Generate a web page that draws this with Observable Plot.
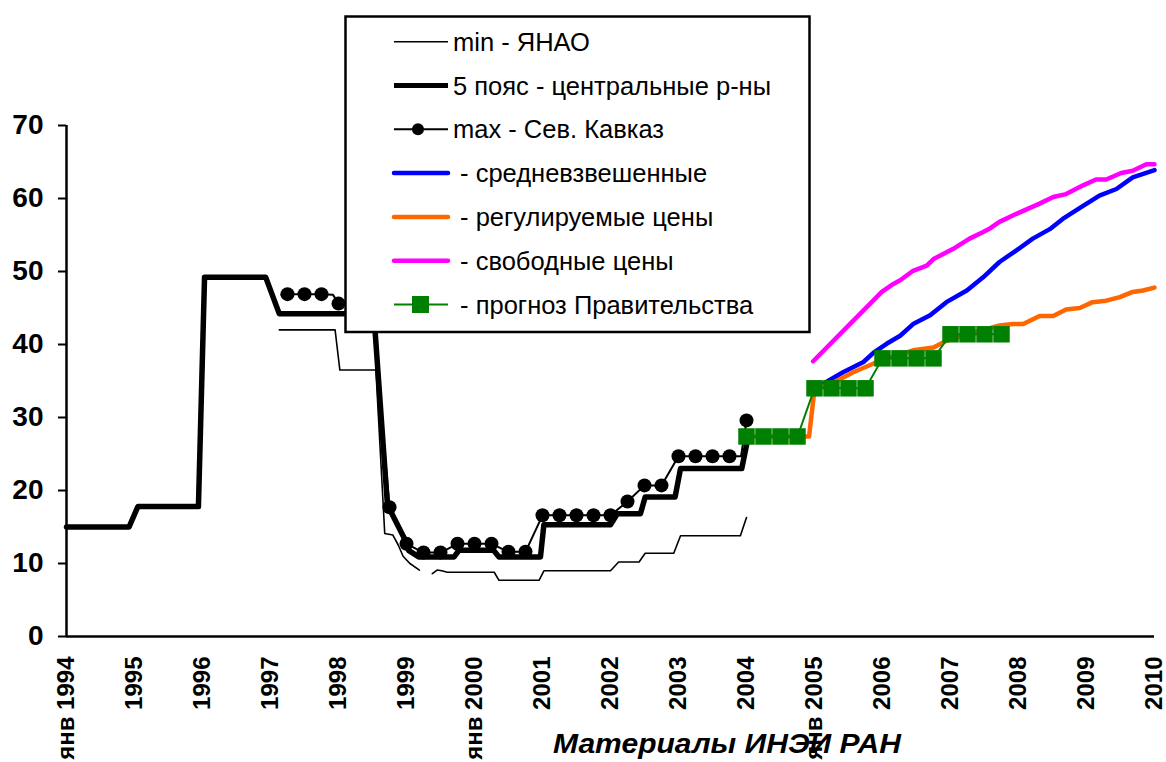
<!DOCTYPE html>
<html><head><meta charset="utf-8">
<script src="https://cdn.jsdelivr.net/npm/d3@7"></script>
<script src="https://cdn.jsdelivr.net/npm/@observablehq/plot@0.6"></script>
<style>
body{margin:0;background:#fff;}
#wrap{position:relative;width:1166px;height:762px;overflow:hidden;font-family:"Liberation Sans",Arial,sans-serif;}
#wrap svg.overlay{position:absolute;left:0;top:0;pointer-events:none;}
</style></head><body><div id="wrap"></div>
<script>
// ---- tick labels ----
const xTickYears = [1994,1995,1996,1997,1998,1999,2000,2001,2002,2003,2004,2005,2006,2007,2008,2009,2010];
const xTickLabels = ["янв 1994","1995","1996","1997","1998","1999","янв 2000","2001","2002","2003","2004","янв 2005","2006","2007","2008","2009","2010"];
const yTicks = [0,10,20,30,40,50,60,70];

// ---- series: min - ЯНАО ----
const minYears  = [1997.13,1997.95,1998.02,1998.55,1998.68,1998.80,1998.88,1998.95,1999.05,1999.19,1999.28,1999.38,1999.45,1999.52,1999.60,2000.29,2000.36,2000.95,2001.02,2002.00,2002.12,2002.42,2002.51,2002.93,2003.03,2003.91,2004.00];
const minValues = [42.0,42.0,36.5,36.5,14.1,13.9,12.5,11.0,10.0,9.1,null,8.6,9.1,9.0,8.8,8.8,7.7,7.7,9.0,9.0,10.2,10.2,11.4,11.4,13.8,13.8,16.3];

// ---- series: 5 пояс - центральные р-ны ----
const beltYears  = [1994.00,1994.92,1995.05,1995.94,1996.03,1996.93,1997.13,1998.52,1998.72,1998.76,1998.96,1999.03,1999.18,1999.70,1999.77,2000.28,2000.36,2000.97,2001.02,2002.00,2002.10,2002.44,2002.51,2002.95,2003.03,2003.93,2004.00,2004.03];
const beltValues = [15.0,15.0,17.8,17.8,49.2,49.2,44.2,44.2,18.0,17.3,13.6,11.8,10.9,10.9,11.8,11.8,10.9,10.9,15.3,15.3,16.8,16.8,19.1,19.1,23.0,23.0,26.2,27.4];

// ---- series: max - Сев. Кавказ ----
const maxYears  = [1997.16,1997.25,1997.50,1997.75,1997.92,1998.00,1998.25,1998.50,1998.75,1999.00,1999.25,1999.50,1999.75,2000.00,2000.25,2000.50,2000.75,2001.00,2001.25,2001.50,2001.75,2002.00,2002.25,2002.50,2002.75,2003.00,2003.25,2003.50,2003.75,2003.92,2004.00];
const maxValues = [46.8,46.9,46.9,46.9,46.8,45.6,45.0,44.5,17.7,12.7,11.5,11.5,12.7,12.7,12.7,11.6,11.6,16.6,16.6,16.6,16.6,16.6,18.5,20.7,20.7,24.7,24.7,24.7,24.7,24.7,29.6];

// ---- series: средневзвешенные ----
const avgYears  = [2005.00,2005.18,2005.42,2005.72,2005.87,2006.06,2006.26,2006.45,2006.70,2006.94,2007.24,2007.48,2007.72,2007.97,2008.21,2008.46,2008.65,2008.95,2009.19,2009.44,2009.68,2010.00];
const avgValues = [33.9,34.9,36.2,37.6,38.9,40.1,41.2,42.8,44.0,45.8,47.4,49.2,51.3,52.9,54.5,55.8,57.2,59.0,60.4,61.3,62.9,63.9];

// ---- series: регулируемые цены ----
const regYears  = [2004.00,2004.92,2005.00,2005.28,2005.57,2005.87,2006.10,2006.25,2006.45,2006.75,2006.94,2007.20,2007.45,2007.72,2007.92,2008.07,2008.31,2008.51,2008.70,2008.90,2009.09,2009.29,2009.49,2009.68,2009.83,2010.00];
const regValues = [27.4,27.4,33.9,34.8,36.2,37.4,38.2,38.6,39.2,39.6,40.5,41.3,41.9,42.6,42.8,42.8,43.9,43.9,44.8,45.0,45.8,46.0,46.5,47.2,47.4,47.8];

// ---- series: свободные цены ----
const freeYears  = [2004.98,2005.99,2006.16,2006.26,2006.45,2006.65,2006.75,2007.04,2007.28,2007.48,2007.58,2007.72,2007.97,2008.31,2008.51,2008.70,2008.95,2009.14,2009.29,2009.51,2009.68,2009.88,2010.00];
const freeValues = [37.7,47.2,48.3,48.8,50.1,50.8,51.7,53.1,54.5,55.4,55.9,56.8,57.9,59.3,60.2,60.6,61.8,62.6,62.6,63.5,63.8,64.7,64.7];

// ---- series: прогноз Правительства ----
const govYears  = [2004.00,2004.25,2004.50,2004.75,2005.00,2005.25,2005.50,2005.75,2006.00,2006.25,2006.50,2006.75,2007.00,2007.25,2007.50,2007.75];
const govValues = [27.4,27.4,27.4,27.4,34.0,34.0,34.0,34.0,38.1,38.1,38.1,38.1,41.4,41.4,41.4,41.4];

// ---- legend & caption text ----
const legendLabels = ["min - ЯНАО","5 пояс - центральные р-ны","max - Сев. Кавказ"," - средневзвешенные"," - регулируемые цены"," - свободные цены"," - прогноз Правительства"];
const captionText = "Материалы ИНЭИ РАН";

const toRows = (xs, vs) => xs.map((year, i) => ({year, value: vs[i]}));
const minData = toRows(minYears, minValues);
const beltData = toRows(beltYears, beltValues);
const maxData = toRows(maxYears, maxValues);
const maxDots = maxData.filter(d => Math.abs(d.year * 4 - Math.round(d.year * 4)) < 1e-6);
const avgData = toRows(avgYears, avgValues);
const regData = toRows(regYears, regValues);
const freeData = toRows(freeYears, freeValues);
const govData = toRows(govYears, govValues);

const COL = {avg:"#0000ff", reg:"#ff6600", free:"#ff00ff", gov:"#008000"};

const chart = Plot.plot({
  width: 1166, height: 762,
  marginLeft: 66, marginRight: 12, marginTop: 125, marginBottom: 126,
  x: {domain: [1994, 2010]},
  y: {domain: [0, 70]},
  style: {fontFamily: "'Liberation Sans', Arial, sans-serif", color: "#000", background: "#fff"},
  marks: [
    Plot.axisY({ticks: yTicks, tickSize: 8, tickPadding: 15, fontSize: 28, fontWeight: "bold", strokeWidth: 2, label: null, tickFormat: d => String(d)}),
    Plot.axisX({ticks: xTickYears, tickFormat: d => xTickLabels[xTickYears.indexOf(d)], tickRotate: -90, tickSize: 0, tickPadding: 20, fontSize: 24, fontWeight: "bold", label: null}),
    Plot.line(minData, {x: "year", y: "value", stroke: "#000", strokeWidth: 1.6}),
    Plot.line(beltData, {x: "year", y: "value", stroke: "#000", strokeWidth: 5.5}),
    Plot.line(maxData, {x: "year", y: "value", stroke: "#000", strokeWidth: 2}),
    Plot.dot(maxDots, {x: "year", y: "value", r: 7, fill: "#000"}),
    Plot.line(freeData, {x: "year", y: "value", stroke: COL.free, strokeWidth: 4.5, strokeLinecap: "round"}),
    Plot.line(avgData, {x: "year", y: "value", stroke: COL.avg, strokeWidth: 4.5, strokeLinecap: "round"}),
    Plot.line(regData, {x: "year", y: "value", stroke: COL.reg, strokeWidth: 4.5, strokeLinecap: "round"}),
    Plot.line(govData, {x: "year", y: "value", stroke: COL.gov, strokeWidth: 2}),
    Plot.dot(govData, {x: "year", y: "value", symbol: "square", r: 9.3, fill: COL.gov}),
    Plot.ruleX([1994], {strokeWidth: 2.5}),
    Plot.ruleY([0], {strokeWidth: 2.5})
  ]
});
const wrap = document.getElementById("wrap");
wrap.appendChild(chart);

// ---- overlay: legend box and caption ----
const ov = d3.select(wrap).append("svg").attr("class", "overlay").attr("width", 1166).attr("height", 762)
  .style("font-family", "'Liberation Sans', Arial, sans-serif");

ov.append("text").attr("x", 553).attr("y", 753)
  .attr("font-size", 27).attr("font-weight", "bold").attr("font-style", "italic")
  .attr("textLength", 348).attr("lengthAdjust", "spacingAndGlyphs").text(captionText);

const lg = ov.append("g");
lg.append("rect").attr("x", 345.5).attr("y", 16.5).attr("width", 464).attr("height", 315.5)
  .attr("fill", "#fff").attr("stroke", "#000").attr("stroke-width", 2.5);
const swatches = [
  {stroke: "#000", w: 1.6},
  {stroke: "#000", w: 5},
  {stroke: "#000", w: 2, dot: true},
  {stroke: COL.avg, w: 4.5, cap: "round"},
  {stroke: COL.reg, w: 4.5, cap: "round"},
  {stroke: COL.free, w: 4.5, cap: "round"},
  {stroke: COL.gov, w: 2, square: true}
];
legendLabels.forEach((lab, i) => {
  const cy = 41.7 + i * 43.8;
  const s = swatches[i];
  lg.append("line").attr("x1", 394).attr("x2", 448).attr("y1", cy).attr("y2", cy)
    .attr("stroke", s.stroke).attr("stroke-width", s.w).attr("stroke-linecap", s.cap || "butt");
  if (s.dot) lg.append("circle").attr("cx", 418).attr("cy", cy).attr("r", 6).attr("fill", "#000");
  if (s.square) lg.append("rect").attr("x", 412).attr("y", cy - 8.5).attr("width", 17).attr("height", 17).attr("fill", COL.gov);
  lg.append("text").attr("x", 453).attr("y", cy).attr("dy", "0.36em").attr("font-size", 25.5)
    .style("white-space", "pre").text(lab);
});
</script>
</body></html>
